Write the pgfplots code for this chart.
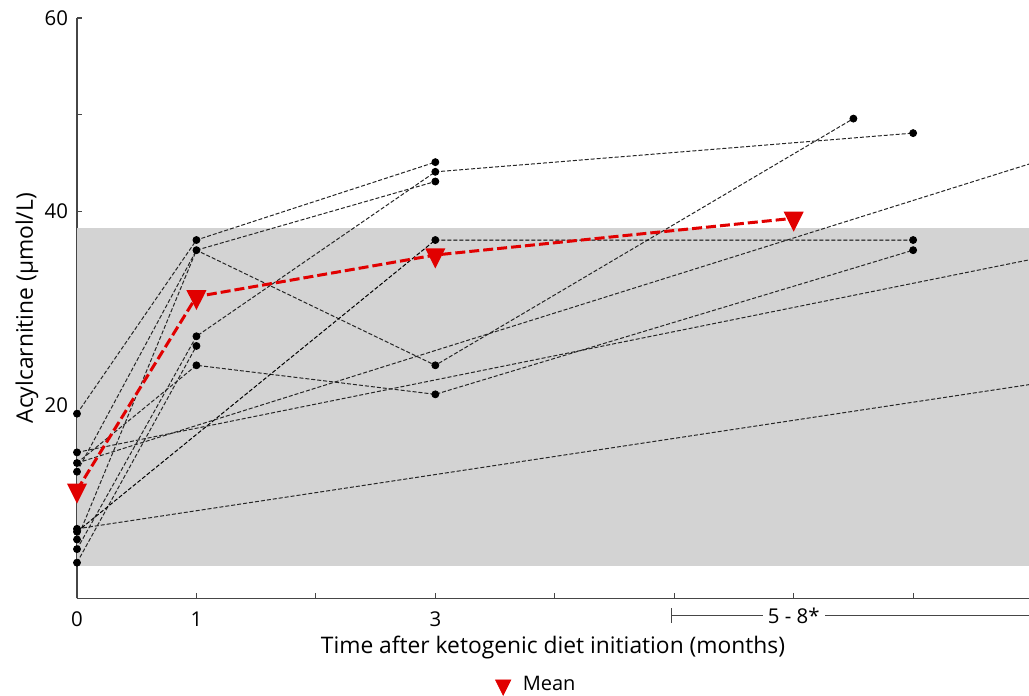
\documentclass[border=0pt]{standalone}
\usepackage{pgfplots}
\pgfplotsset{compat=1.18}
\usepackage{fontspec}
\setmainfont{Open Sans}
\definecolor{meanred}{RGB}{225,0,0}
\definecolor{bandgray}{RGB}{211,211,211}
\definecolor{axgray}{RGB}{70,70,70}
\begin{document}
\begin{tikzpicture}[font=\fontsize{10.2bp}{12bp}\selectfont]
\begin{axis}[
  name=ax,
  scale only axis,
  width=476bp, height=290.25bp,
  xmin=0, xmax=7.97, ymin=0, ymax=60,
  axis x line*=bottom, axis y line*=left,
  axis line style={axgray, line width=0.6pt},
  xtick={0,1,2,3,4,5,6,7}, xticklabels={0,1,,3,,,,},
  ytick={0,10,20,30,40,50,60}, yticklabels={,,20,,40,,60},
  tick align=inside, major tick length=2.5bp,
  tick style={axgray, line width=0.6pt},
  /pgf/number format/assume math mode=true,
  xticklabel style={yshift=-3bp},
  yticklabel style={xshift=-1bp},
  xlabel={Time after ketogenic diet initiation (months)},
  ylabel={Acylcarnitine (μmol/L)},
  every axis x label/.style={at={(axis description cs:0.5,0)}, anchor=center, yshift=-24.5bp, font=\fontsize{11.4bp}{13bp}\selectfont},
  every axis y label/.style={at={(axis description cs:0,0.5)}, rotate=90, anchor=center, yshift=25bp, font=\fontsize{11.4bp}{13bp}\selectfont},
  clip=false,
  legend style={at={(0.4837,-0.149)}, anchor=center, draw=none, fill=none, font=\fontsize{10bp}{12bp}\selectfont},
  subj/.style={black!85, line width=0.5pt, dash pattern=on 2bp off 1bp, forget plot},
]
% reference band
\addplot[fill=bandgray, draw=none, forget plot] coordinates {(0,3.4) (7.97,3.4) (7.97,38.3) (0,38.3)} -- cycle;

% individual patients
\addplot[subj] coordinates {(0,19.1) (1,37.05) (3,45.1)};
\addplot[subj] coordinates {(0,13.1) (1,36.0) (3,43.1)};
\addplot[subj] coordinates {(0,6.1) (1,36.0) (3,24.1) (6.5,49.6)};
\addplot[subj] coordinates {(0,5.1) (1,27.1) (3,44.1) (7,48.1)};
\addplot[subj] coordinates {(0,3.7) (1,26.1)};
\addplot[subj] coordinates {(0,14.0) (1,24.1) (3,21.1) (7,36.0)};
\addplot[subj, black] coordinates {(0,6.9) (3,37.05) (7,37.05)};
\addplot[subj] coordinates {(0,14.0) (7.97,44.9)};
\addplot[subj] coordinates {(0,15.1) (7.97,35.0)};
\addplot[subj] coordinates {(0,7.2) (7.97,22.1)};

% data points
\addplot[only marks, mark=*, mark size=1.75bp, black, forget plot] coordinates {
 (0,19.1) (0,15.1) (0,14.0) (0,13.1) (0,7.2) (0,6.9) (0,6.1) (0,5.1) (0,3.7)
 (1,37.05) (1,36.0) (1,27.1) (1,26.1) (1,24.1)
 (3,45.1) (3,44.1) (3,43.1) (3,37.05) (3,24.1) (3,21.1)
 (6.5,49.6) (7,48.1) (7,37.05) (7,36.0)};

% mean
\addplot[meanred, line width=1.5bp, dash pattern=on 5bp off 2bp, forget plot,
  mark=triangle*, mark size=4.4bp, mark options={solid, rotate=180, fill=meanred, yscale=1.15}]
  coordinates {(0,11.2) (1,31.2) (3,35.5) (6,39.3)};
\addlegendimage{only marks, mark=triangle*, mark size=4.4bp, meanred, mark options={rotate=180, fill=meanred, yscale=1.15}}
\addlegendentry{\hspace{4bp}Mean}

% 5-8 month bracket
\draw[axgray, line width=0.5pt] (axis cs:4.98,-1.0) -- (axis cs:4.98,-2.5);
\draw[axgray, line width=0.5pt] (axis cs:4.98,-1.8) -- (axis cs:7.97,-1.8);
\node[fill=white, inner sep=2.5bp] at (axis cs:6,-1.8) {5 - 8*};
\end{axis}
\pgfresetboundingbox
\path[use as bounding box] ([xshift=-38.5bp, yshift=-48.75bp]ax.south west) rectangle ([yshift=9bp]ax.north east);
\end{tikzpicture}
\end{document}
